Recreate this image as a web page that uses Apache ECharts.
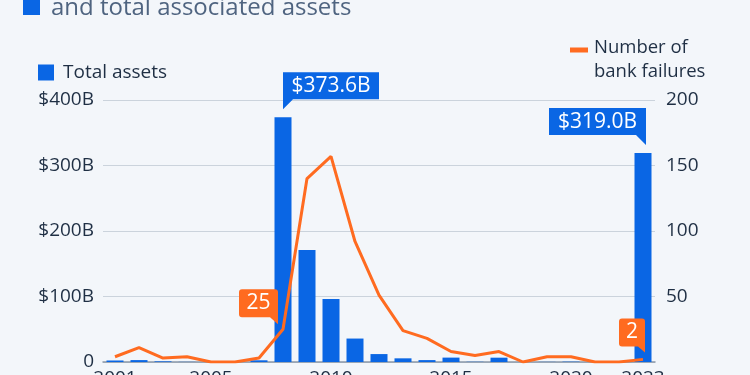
<!DOCTYPE html>
<html>
<head>
<meta charset="utf-8">
<script src="https://cdn.jsdelivr.net/npm/echarts@6/dist/echarts.min.js"></script>
<style>
html,body{margin:0;padding:0;background:#f3f6fa;}
#c{width:750px;height:375px;}
</style>
</head>
<body>
<div id="c"></div>
<script>
const years = ['2001','2002','2003','2004','2005','2006','2007','2008','2009','2010','2011','2012','2013','2014','2015','2016','2017','2018','2019','2020','2021','2022','2023'];
const totalAssets = [2.3, 2.9, 1.0, 0.2, 0, 0, 2.6, 373.6, 171.0, 96.0, 35.8, 12.1, 5.6, 2.9, 6.7, 0.3, 6.6, 0, 0.2, 0.5, 0, 0, 319.0];
const bankFailures = [4, 11, 3, 4, 0, 0, 3, 25, 140, 157, 92, 51, 24, 18, 8, 5, 8, 0, 4, 4, 0, 0, 2];
const labeledYears = ['2001','2005','2010','2015','2020','2023'];
const assetCallouts = ['2008','2023'];
const failureCallouts = ['2008','2023'];
const leftTicks = ['0','$100B','$200B','$300B','$400B'];
const rightTicks = ['','50','100','150','200'];

const BLUE = '#0a66e4';
const ORANGE = '#ff6b20';
const TEXT = '#1f2f44';
const FONT = 'Open Sans';

const showYear = (i) => labeledYears.indexOf(years[i]) >= 0;

const chart = echarts.init(document.getElementById('c'), null, {renderer:'canvas'});

const assetMP = assetCallouts.map((y, k) => {
  const i = years.indexOf(y);
  const left = k === 0;
  return {
    coord: [i, totalAssets[i]],
    value: totalAssets[i],
    symbol: left ? 'path://M0,0 L96,0 L96,27 L10,27 L0,37 Z' : 'path://M0,0 L97,0 L97,37 L87,27 L0,27 Z',
    symbolSize: left ? [96, 37] : [97, 37],
    symbolOffset: left ? [48, -26.5] : [-45.5, -26.5]
  };
});

const failMP = failureCallouts.map((y, k) => {
  const i = years.indexOf(y);
  const first = k === 0;
  return {
    coord: [i, bankFailures[i]],
    value: bankFailures[i],
    symbol: first ? 'path://M3,0 L36,0 Q39,0 39,3 L39,35 L31,28 L3,28 Q0,28 0,25 L0,3 Q0,0 3,0 Z'
                  : 'path://M3,0 L23,0 Q26,0 26,3 L26,34 L19,28 L3,28 Q0,28 0,25 L0,3 Q0,0 3,0 Z',
    symbolSize: first ? [39, 35] : [26, 34],
    symbolOffset: first ? [-24.5, -22.5] : [-11, -24],
    label: {offset: first ? [0, -3.5] : [0, -3]}
  };
});

chart.setOption({
  animation: false,
  backgroundColor: '#f3f6fa',
  textStyle: {fontFamily: FONT},
  title: {
    text: 'and total associated assets',
    left: 51, top: -4, padding: 0,
    textStyle: {fontFamily: FONT, fontSize: 24, fontWeight: 'normal', color: '#4f6480'}
  },
  graphic: [
    {type: 'rect', left: 23, top: -3, shape: {width: 17, height: 18}, style: {fill: BLUE}}
  ],
  legend: [
    {
      data: ['Total assets'], left: 38, top: 63, icon: 'rect', padding: 0,
      itemWidth: 16, itemHeight: 16, itemGap: 8,
      textStyle: {fontFamily: FONT, fontSize: 19, color: TEXT, padding: [0,0,0,4]}
    },
    {
      data: ['Number of bank failures'], left: 570, top: 36, padding: 0,
      icon: 'path://M0,0 L0.01,0 M0,2 L18,2 L18,7 L0,7 Z M0,29 L0.01,29',
      itemWidth: 18, itemHeight: 29,
      formatter: () => 'Number of\nbank failures',
      textStyle: {fontFamily: FONT, fontSize: 18.5, color: TEXT, lineHeight: 24, padding: [0,0,0,1]}
    }
  ],
  grid: {left: 103, right: 95, top: 100, bottom: 13, containLabel: false, outerBoundsMode: 'none'},
  xAxis: {
    type: 'category',
    data: years,
    boundaryGap: true,
    axisLine: {lineStyle: {color: '#8a98a8', width: 1.5}},
    axisTick: {alignWithLabel: true, interval: (i) => showYear(i), length: 5, lineStyle: {color: '#7f8d9c'}},
    axisLabel: {interval: (i) => showYear(i), margin: 7, fontSize: 19, color: TEXT, fontFamily: FONT}
  },
  yAxis: [
    {
      type: 'value', min: 0, max: 400, interval: 100,
      axisLine: {show: false}, axisTick: {show: false},
      splitLine: {lineStyle: {color: '#cbd3dc', width: 1}},
      axisLabel: {margin: 9, fontSize: 19, color: TEXT, fontFamily: FONT,
        formatter: (v) => leftTicks[v / 100]}
    },
    {
      type: 'value', min: 0, max: 200, interval: 50, position: 'right',
      axisLine: {show: false}, axisTick: {show: false}, splitLine: {show: false},
      axisLabel: {margin: 11, fontSize: 19, color: TEXT, fontFamily: FONT,
        formatter: (v) => rightTicks[v / 50]}
    }
  ],
  series: [
    {
      name: 'Total assets', type: 'bar', data: totalAssets, yAxisIndex: 0,
      barWidth: 17, itemStyle: {color: BLUE},
      markPoint: {
        silent: true,
        itemStyle: {color: BLUE},
        label: {show: true, position: 'inside', offset: [0, -5], color: '#ffffff', fontSize: 21, fontFamily: FONT,
          formatter: (p) => '$' + Number(p.value).toFixed(1) + 'B'},
        data: assetMP
      }
    },
    {
      name: 'Number of bank failures', type: 'line', data: bankFailures, yAxisIndex: 1,
      symbol: 'none', lineStyle: {color: ORANGE, width: 3}, itemStyle: {color: ORANGE},
      markPoint: {
        silent: true,
        itemStyle: {color: ORANGE},
        label: {show: true, position: 'inside', color: '#ffffff', fontSize: 21, fontFamily: FONT,
          formatter: (p) => String(p.value)},
        data: failMP
      }
    }
  ]
});
</script>
</body>
</html>
